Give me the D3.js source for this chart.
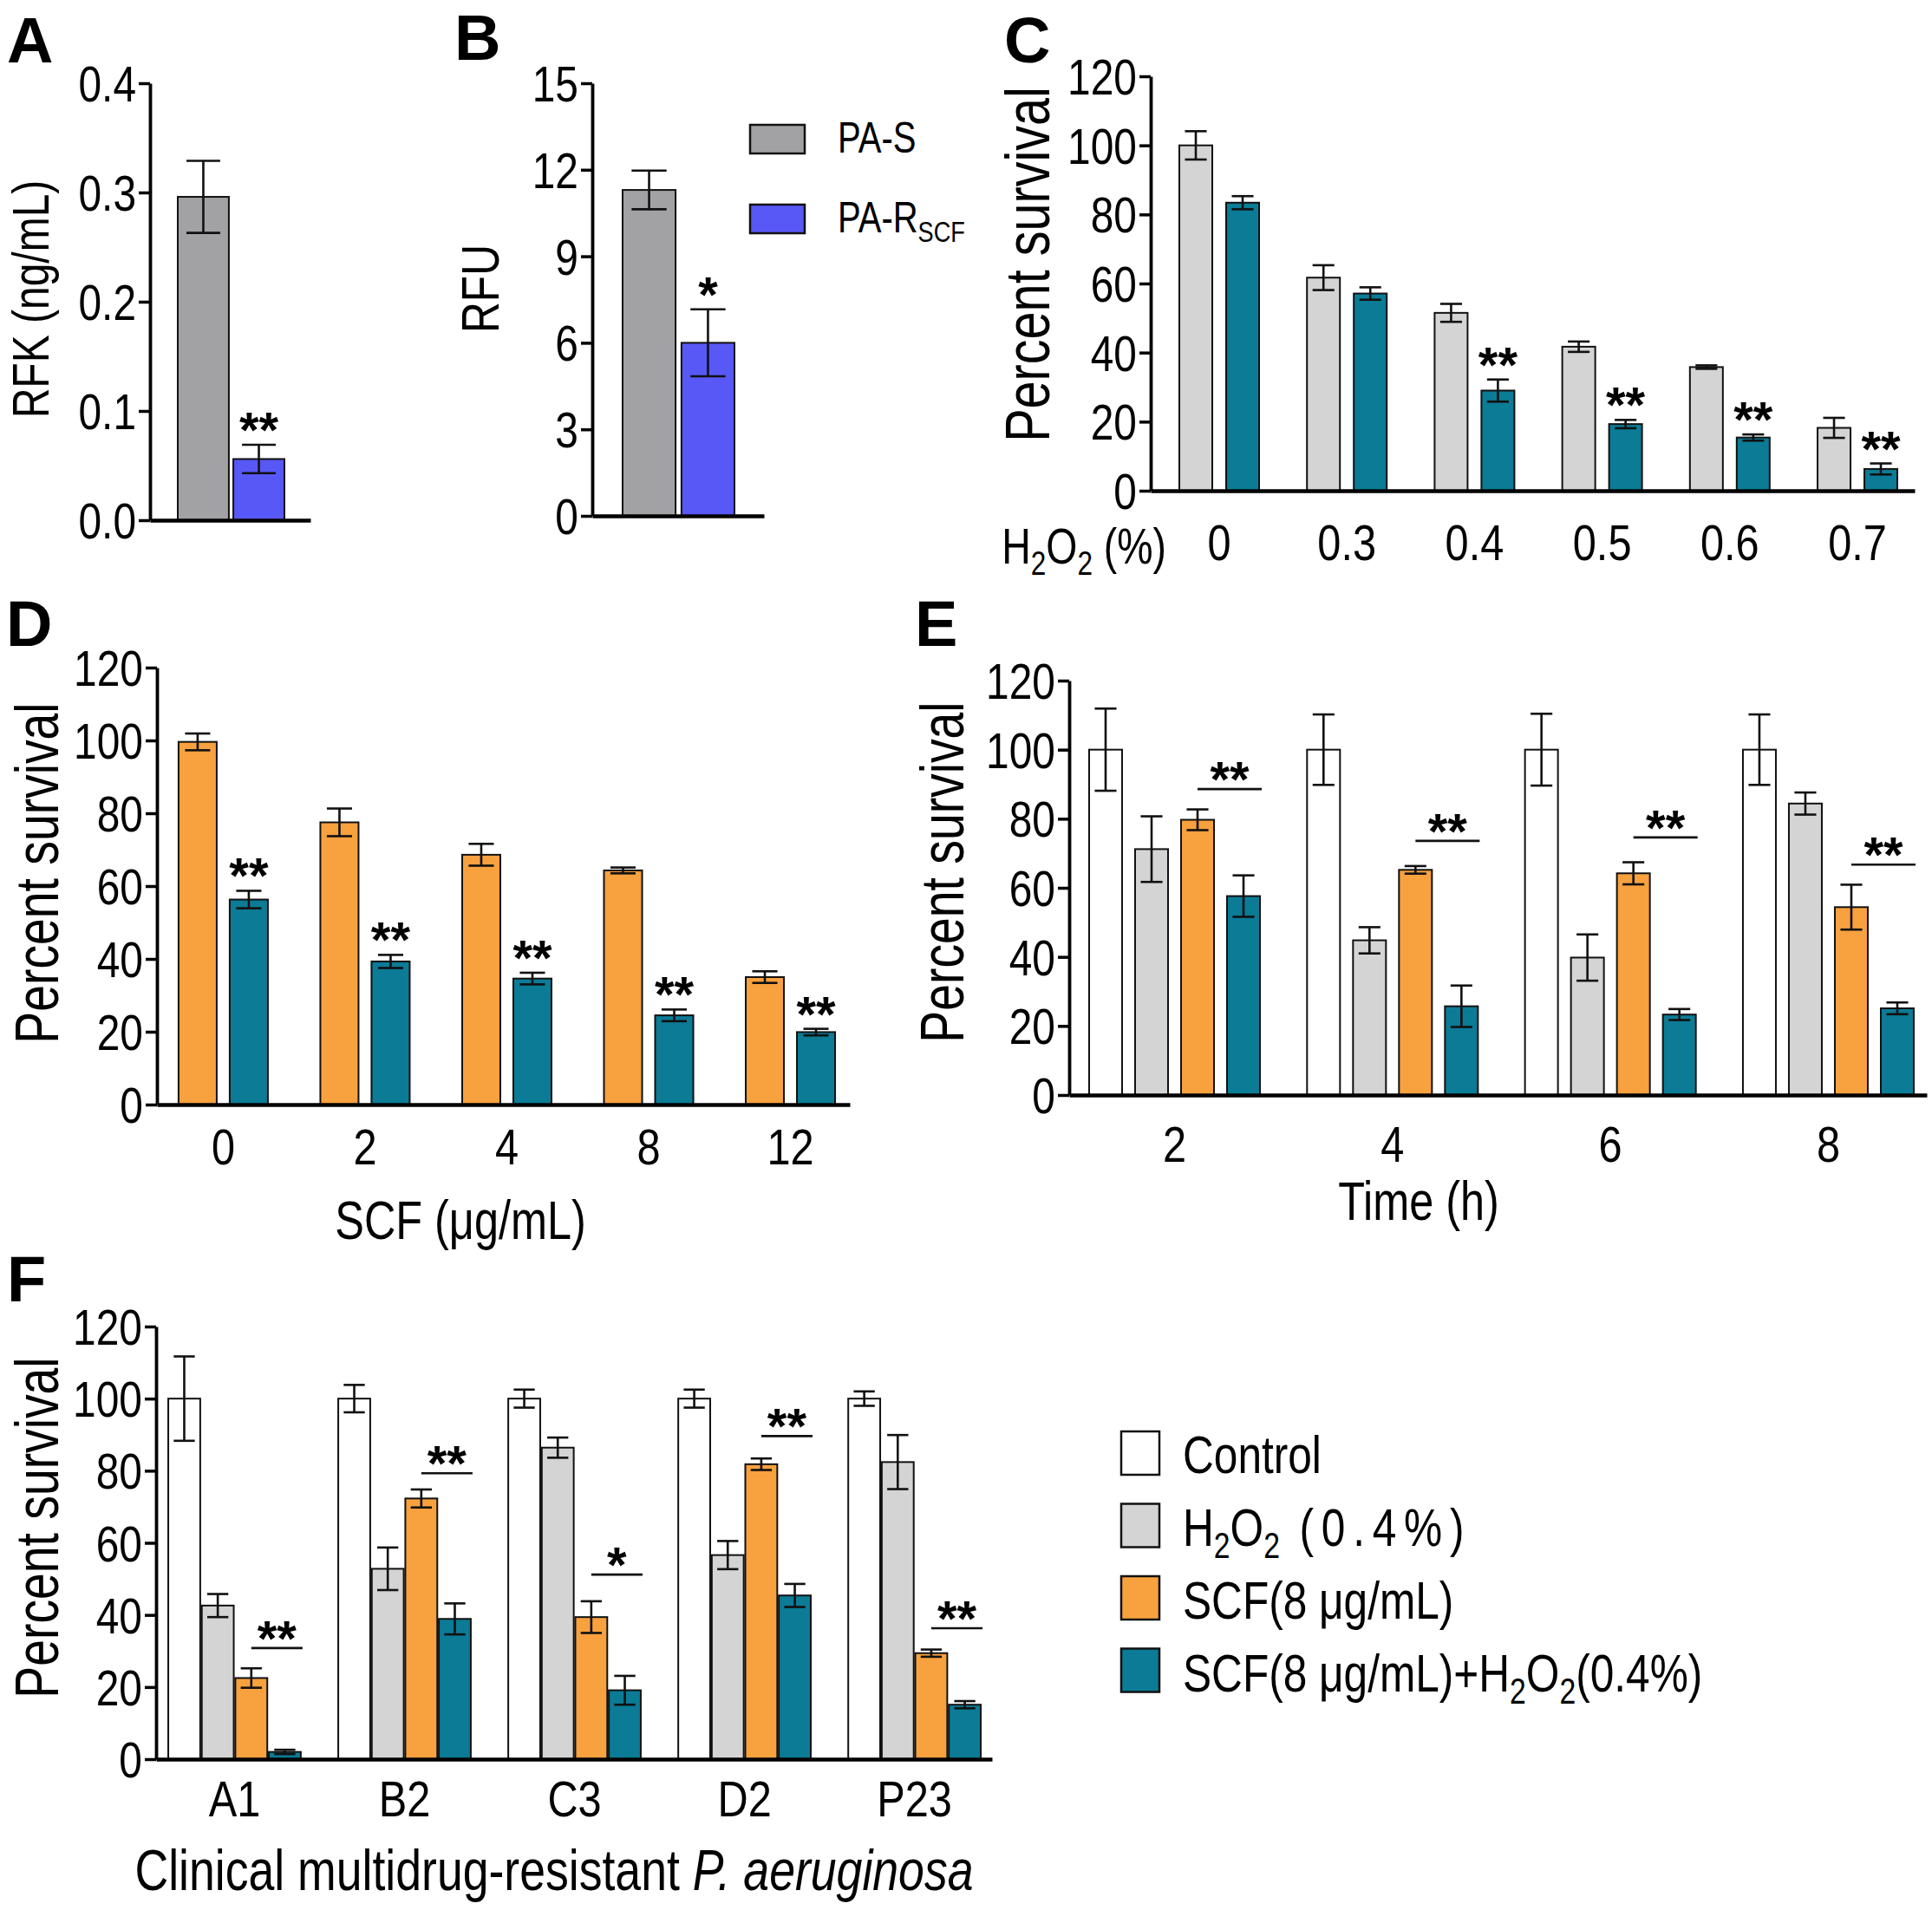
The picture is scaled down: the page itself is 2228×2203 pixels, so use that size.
<!DOCTYPE html>
<html>
<head>
<meta charset="utf-8">
<script src="https://cdn.jsdelivr.net/npm/d3@7"></script>
<style>
body { margin: 0; background: #fff; }
text { font-family: 'Liberation Sans', Arial, sans-serif; fill: #000; }
</style>
</head>
<body>
<script>
// ---- data ----
// A / B
var strainsAB = ["PA-S", "PA-RSCF"];
var rfkMean = [0.296, 0.056];
var rfkErr = [0.033, 0.013];
var rfkStars = ["", "**"];
var rfuMean = [11.3, 6.0];
var rfuErr = [0.67, 1.16];
var rfuStars = ["", "*"];

// C
var h2o2Levels = ["0", "0.3", "0.4", "0.5", "0.6", "0.7"];
var cNoSCF = [100, 61.7, 51.5, 41.7, 35.8, 18.2];
var cNoSCFErr = [4.1, 3.6, 2.6, 1.5, 0.5, 2.9];
var cSCF = [83.4, 57.1, 29.0, 19.3, 15.4, 6.3];
var cSCFErr = [1.9, 1.8, 3.2, 1.2, 0.9, 1.6];
var cStars = ["", "", "**", "**", "**", "**"];

// D
var scfDoses = ["0", "2", "4", "8", "12"];
var dSCF = [99.6, 77.5, 68.6, 64.3, 35.0];
var dSCFErr = [2.3, 3.8, 3.0, 0.8, 1.6];
var dComb = [56.3, 39.3, 34.6, 24.5, 19.9];
var dCombErr = [2.4, 1.8, 1.6, 1.6, 0.9];
var dStars = ["**", "**", "**", "**", "**"];

// E
var timePoints = ["2", "4", "6", "8"];
var eControl = [100, 100, 100, 100];
var eControlErr = [11.9, 10.2, 10.4, 10.2];
var eH2O2 = [71.2, 44.8, 39.8, 84.4];
var eH2O2Err = [9.5, 3.8, 6.7, 3.2];
var eSCF = [79.7, 65.2, 64.2, 54.4];
var eSCFErr = [3.0, 1.1, 3.2, 6.5];
var eComb = [57.6, 25.7, 23.3, 25.1];
var eCombErr = [6.0, 6.0, 1.6, 1.7];
var eSigLevel = [88.6, 73.6, 74.6, 66.7];
var eSig = ["**", "**", "**", "**"];

// F
var clinical = ["A1", "B2", "C3", "D2", "P23"];
var fControl = [100, 100, 100, 100, 100];
var fControlErr = [11.7, 3.8, 2.5, 2.5, 2.0];
var fH2O2 = [42.6, 52.8, 86.4, 56.6, 82.4];
var fH2O2Err = [3.2, 5.9, 2.8, 3.9, 7.5];
var fSCF = [22.5, 72.3, 39.4, 81.8, 29.4];
var fSCFErr = [2.7, 2.5, 4.4, 1.6, 1.0];
var fComb = [2.0, 38.9, 19.1, 45.4, 15.1];
var fCombErr = [0.6, 4.3, 4.0, 3.2, 1.0];
var fSigLevel = [30.8, 79.3, 51.2, 89.6, 36.3];
var fSig = ["**", "**", "*", "**", "**"];

var pctTicks = [0, 20, 40, 60, 80, 100, 120];

var abColors = ["#a2a2a5", "#5858f6"];
var cWhite = "#ffffff", cGray = "#d4d4d4", cOrange = "#f8a13f", cTeal = "#0b7b96";

// the figure uses a condensed Helvetica; squeeze Liberation Sans horizontally
var NARROW = 0.8;

var svg = d3.select("body").append("svg")
  .attr("width", 2228)
  .attr("height", 2203);

svg.append("rect").attr("width", 2228).attr("height", 2203).attr("fill", "#fff");

function squeeze(sel, k) {
  k = k || NARROW;
  sel.each(function() {
    var t = d3.select(this);
    var x = +t.attr("x") || 0, y = +t.attr("y") || 0;
    var tr = t.attr("transform") || "";
    t.attr("x", 0).attr("y", 0)
      .attr("transform", tr + " translate(" + x + "," + y + ") scale(" + k + ",1)");
  });
  return sel;
}

// text with subscripts: parts are strings or {sub}, {it}, {t, ls}
function rich(t, parts, size) {
  var shift = size * 0.22;
  var down = false;
  parts.forEach(function(p) {
    var ts = t.append("tspan");
    if (typeof p === "string" || p.t) {
      ts.text(typeof p === "string" ? p : p.t);
      if (p.ls) ts.attr("letter-spacing", p.ls);
      if (down) { ts.attr("dy", -shift); down = false; }
    } else if (p.sub) {
      ts.text(p.sub).attr("font-size", size * 0.68);
      if (!down) { ts.attr("dy", shift); down = true; }
    } else if (p.it) {
      ts.text(p.it).attr("font-style", "italic");
      if (down) { ts.attr("dy", -shift); down = false; }
    }
  });
  return squeeze(t);
}

function panel(cfg) {
  var g = svg.append("g");
  var y = d3.scaleLinear().domain([0, cfg.yMax]).range([cfg.y0, cfg.y1]);
  var x = d3.scaleBand().domain(cfg.groups).range([cfg.ax, cfg.xEnd])
    .paddingInner(cfg.pIn).paddingOuter(cfg.pOut).align(cfg.align);
  var xs = d3.scaleBand().domain(d3.range(cfg.series.length))
    .range([0, x.bandwidth()]).paddingInner(cfg.pBar || 0);
  var bw = xs.bandwidth(), cap = bw * 0.66;

  cfg.series.forEach(function(s, si) {
    var rows = cfg.groups.map(function(name, gi) {
      return { g: name, gi: gi, v: s.values[gi], e: s.errors[gi],
        cx: x(name) + xs(si) + bw / 2 };
    });
    var sg = g.append("g");
    sg.selectAll("rect").data(rows).join("rect")
      .attr("x", function(d) { return x(d.g) + xs(si); })
      .attr("y", function(d) { return y(d.v); })
      .attr("width", bw)
      .attr("height", function(d) { return y(0) - y(d.v); })
      .attr("fill", function(d) { return typeof s.color === "string" ? s.color : s.color[d.gi]; })
      .attr("stroke", "#111")
      .attr("stroke-width", 2);
    var eg = sg.selectAll("g.err").data(rows).join("g").attr("class", "err")
      .attr("stroke", "#111").attr("stroke-width", 2.6);
    eg.append("line")
      .attr("x1", function(d) { return d.cx; }).attr("x2", function(d) { return d.cx; })
      .attr("y1", function(d) { return y(d.v - d.e); })
      .attr("y2", function(d) { return y(d.v + d.e); });
    eg.append("line")
      .attr("x1", function(d) { return d.cx - cap / 2; }).attr("x2", function(d) { return d.cx + cap / 2; })
      .attr("y1", function(d) { return y(d.v + d.e); }).attr("y2", function(d) { return y(d.v + d.e); });
    eg.append("line")
      .attr("x1", function(d) { return d.cx - cap / 2; }).attr("x2", function(d) { return d.cx + cap / 2; })
      .attr("y1", function(d) { return y(d.v - d.e); }).attr("y2", function(d) { return y(d.v - d.e); });

    if (s.stars) {
      sg.selectAll("text.star").data(rows).join("text").attr("class", "star")
        .attr("x", function(d) { return d.cx; })
        .attr("y", function(d) { return y(d.v + d.e) + 3; })
        .attr("text-anchor", "middle")
        .attr("font-size", 58).attr("font-weight", "bold")
        .text(function(d) { return s.stars[d.gi]; });
    }
  });

  // significance brackets between series 2 and 3
  if (cfg.sig) {
    var rows = cfg.groups.map(function(name, gi) {
      return { g: name, lv: cfg.sig.levels[gi], lab: cfg.sig.labels[gi],
        x1: x(name) + xs(2) + bw / 2, x2: x(name) + xs(3) + bw + 2 };
    });
    var bg = g.append("g");
    bg.selectAll("line").data(rows).join("line")
      .attr("x1", function(d) { return d.x1; }).attr("x2", function(d) { return d.x2; })
      .attr("y1", function(d) { return y(d.lv); }).attr("y2", function(d) { return y(d.lv); })
      .attr("stroke", "#111").attr("stroke-width", 2.6);
    bg.selectAll("text").data(rows).join("text")
      .attr("x", function(d) { return (d.x1 + d.x2) / 2; })
      .attr("y", function(d) { return y(d.lv) + 9; })
      .attr("text-anchor", "middle")
      .attr("font-size", 58).attr("font-weight", "bold")
      .text(function(d) { return d.lab; });
  }

  // y axis
  var ya = g.append("g").attr("transform", "translate(" + cfg.ax + ",0)")
    .call(d3.axisLeft(y).tickValues(cfg.ticks).tickFormat(cfg.fmt || d3.format("d"))
      .tickSize(13).tickSizeOuter(0).tickPadding(3));
  ya.select(".domain").attr("stroke", "#000").attr("stroke-width", 3.8);
  ya.selectAll(".tick line").attr("stroke", "#000").attr("stroke-width", 3.5);
  squeeze(ya.selectAll(".tick text").attr("font-size", 57).attr("font-family", null)
    .attr("dy", "0.36em"), 0.84);

  // x axis
  var xa = g.append("g").attr("transform", "translate(0," + y(0) + ")")
    .call(d3.axisBottom(x).tickSize(0).tickSizeOuter(0)
      .tickFormat(cfg.showX === false ? function() { return ""; } : null));
  xa.select(".domain").attr("stroke", "#000").attr("stroke-width", 4.5);
  squeeze(xa.selectAll(".tick text").attr("font-size", 58).attr("font-family", null)
    .attr("dy", 0).attr("y", cfg.xOff || 70), 0.84);

  // y title
  var yt = cfg.yTitle;
  g.append("text")
    .attr("transform", "translate(" + (yt.cx + yt.k * yt.size) + "," + yt.cy + ") rotate(-90) scale(" + (yt.n || NARROW) + ",1)")
    .attr("text-anchor", "middle")
    .attr("font-size", yt.size)
    .text(yt.text);

  return { x: x, y: y };
}

function letter(t, x, y) {
  svg.append("text").attr("x", x).attr("y", y)
    .attr("font-weight", "bold")
    .attr("font-size", 74).text(t);
}

// ---- A ----
panel({
  groups: strainsAB, yMax: 0.4, ticks: [0, 0.1, 0.2, 0.3, 0.4], fmt: d3.format(".1f"),
  y0: 600, y1: 96, ax: 173, xEnd: 358, pIn: 0.08, pOut: 0.484, align: 0.516,
  series: [{ values: rfkMean, errors: rfkErr, color: abColors, stars: rfkStars }],
  showX: false,
  yTitle: { text: "RFK (ng/mL)", cx: 38, cy: 345, size: 60, k: 0.3 }
});
letter("A", 8, 72);

// ---- B ----
panel({
  groups: strainsAB, yMax: 15, ticks: [0, 3, 6, 9, 12, 15],
  y0: 595, y1: 96, ax: 683, xEnd: 881, pIn: 0.1, pOut: 0.508, align: 0.507,
  series: [{ values: rfuMean, errors: rfuErr, color: abColors, stars: rfuStars }],
  showX: false,
  yTitle: { text: "RFU", cx: 553, cy: 333, size: 62, k: 0.36 }
});
letter("B", 524, 69);

// legend B
var legB = svg.append("g");
legB.selectAll("rect").data(strainsAB).join("rect")
  .attr("x", 865).attr("y", function(d, i) { return 144 + i * 92; })
  .attr("width", 63).attr("height", 33)
  .attr("fill", function(d, i) { return abColors[i]; })
  .attr("stroke", "#111").attr("stroke-width", 2.5);
rich(legB.append("text").attr("x", 966).attr("y", 176).attr("font-size", 50), ["PA-S"], 50);
rich(legB.append("text").attr("x", 966).attr("y", 268).attr("font-size", 50), ["PA-R", { sub: "SCF" }], 50);

// ---- C ----
panel({
  groups: h2o2Levels, yMax: 120, ticks: pctTicks,
  y0: 566, y1: 88, ax: 1327, xEnd: 2208, pIn: 0.375, pOut: 0.18, align: 0.623, pBar: 0.296,
  series: [
    { values: cNoSCF, errors: cNoSCFErr, color: cGray },
    { values: cSCF, errors: cSCFErr, color: cTeal, stars: cStars }
  ],
  xOff: 80,
  yTitle: { text: "Percent survival", cx: 1184, cy: 305, size: 72, k: 0.365 }
});
letter("C", 1158, 72);
rich(svg.append("text").attr("x", 1345).attr("y", 650).attr("text-anchor", "end").attr("font-size", 58),
  ["H", { sub: "2" }, "O", { sub: "2" }, " (%)"], 58);

// ---- D ----
panel({
  groups: scfDoses, yMax: 120, ticks: pctTicks,
  y0: 1274, y1: 770, ax: 181, xEnd: 980, pIn: 0.37, pOut: 0.128, align: 0.595, pBar: 0.254,
  series: [
    { values: dSCF, errors: dSCFErr, color: cOrange },
    { values: dComb, errors: dCombErr, color: cTeal, stars: dStars }
  ],
  xOff: 69,
  yTitle: { text: "Percent survival", cx: 41, cy: 1007, size: 70, k: 0.365, n: 0.79 }
});
letter("D", 7, 745);
squeeze(svg.append("text").attr("x", 531).attr("y", 1429).attr("text-anchor", "middle")
  .attr("font-size", 63).text("SCF (\u03bcg/mL)"));

// ---- E ----
panel({
  groups: timePoints, yMax: 120, ticks: pctTicks,
  y0: 1263, y1: 785, ax: 1233, xEnd: 2222, pIn: 0.216, pOut: 0.0756, align: 0.605, pBar: 0.283,
  series: [
    { values: eControl, errors: eControlErr, color: cWhite },
    { values: eH2O2, errors: eH2O2Err, color: cGray },
    { values: eSCF, errors: eSCFErr, color: cOrange },
    { values: eComb, errors: eCombErr, color: cTeal }
  ],
  sig: { levels: eSigLevel, labels: eSig },
  xOff: 77,
  yTitle: { text: "Percent survival", cx: 1085, cy: 1006, size: 70, k: 0.365, n: 0.79 }
});
letter("E", 1055, 745);
squeeze(svg.append("text").attr("x", 1636).attr("y", 1407).attr("text-anchor", "middle")
  .attr("font-size", 63).text("Time (h)"));

// ---- F ----
panel({
  groups: clinical, yMax: 120, ticks: pctTicks,
  y0: 2029, y1: 1530, ax: 180, xEnd: 1144, pIn: 0.2204, pOut: 0.0689, align: 0.52, pBar: 0.047,
  series: [
    { values: fControl, errors: fControlErr, color: cWhite },
    { values: fH2O2, errors: fH2O2Err, color: cGray },
    { values: fSCF, errors: fSCFErr, color: cOrange },
    { values: fComb, errors: fCombErr, color: cTeal }
  ],
  sig: { levels: fSigLevel, labels: fSig },
  xOff: 66,
  yTitle: { text: "Percent survival", cx: 41, cy: 1762, size: 70, k: 0.365, n: 0.79 }
});
letter("F", 8, 1501);
rich(svg.append("text").attr("x", 639).attr("y", 2180).attr("text-anchor", "middle").attr("font-size", 67),
  ["Clinical multidrug-resistant ", { it: "P. aeruginosa" }], 67);

// legend F
var legendColors = [cWhite, cGray, cOrange, cTeal];
var legendLabels = [
  ["Control"],
  ["H", { sub: "2" }, "O", { sub: "2" }, { t: " (0.4%)", ls: 11 }],
  ["SCF(8 \u03bcg/mL)"],
  ["SCF(8 \u03bcg/mL)+H", { sub: "2" }, "O", { sub: "2" }, "(0.4%)"]
];
var legF = svg.append("g");
legF.selectAll("rect").data(legendColors).join("rect")
  .attr("x", 1293).attr("y", function(d, i) { return 1651 + i * 83.5; })
  .attr("width", 44).attr("height", 50)
  .attr("fill", function(d) { return d; })
  .attr("stroke", "#111").attr("stroke-width", 2.5);
legendLabels.forEach(function(parts, i) {
  var t = legF.append("text").attr("x", 1364).attr("y", 1699 + i * 84).attr("font-size", 62);
  rich(t, parts, 62);
});
</script>
</body>
</html>
